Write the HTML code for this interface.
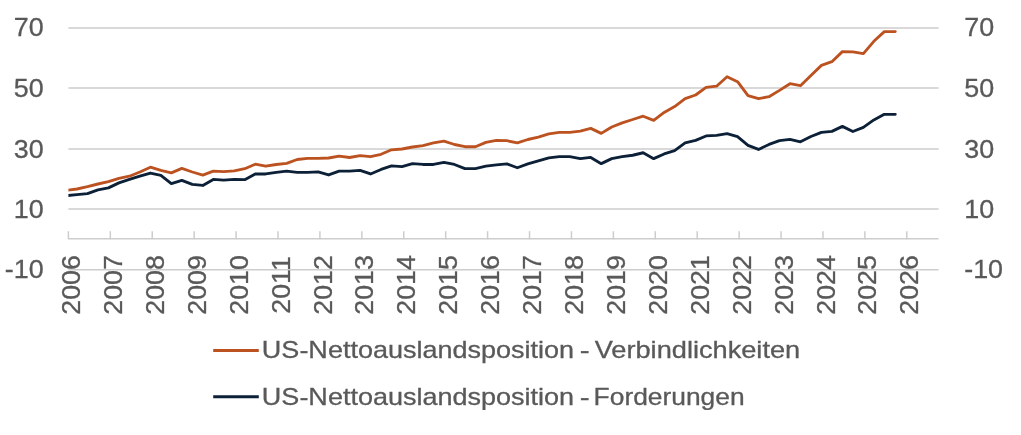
<!DOCTYPE html>
<html><head><meta charset="utf-8"><title>Chart</title>
<style>
html,body{margin:0;padding:0;background:#fff;}
body{width:1021px;height:435px;overflow:hidden;}
svg{display:block;}
text{font-family:"Liberation Sans",sans-serif;fill:#595959;stroke:#595959;stroke-width:0.3px;}
.t{will-change:transform;}
</style></head><body>
<svg width="1021" height="435" viewBox="0 0 1021 435">
<rect width="1021" height="435" fill="#ffffff"/>
<line x1="68.4" y1="27.9" x2="938.6" y2="27.9" stroke="#cdcdcd" stroke-width="1.5"/>
<line x1="68.4" y1="88.0" x2="938.6" y2="88.0" stroke="#cdcdcd" stroke-width="1.5"/>
<line x1="68.4" y1="149.1" x2="938.6" y2="149.1" stroke="#cdcdcd" stroke-width="1.5"/>
<line x1="68.4" y1="209.0" x2="938.6" y2="209.0" stroke="#cdcdcd" stroke-width="1.5"/>
<line x1="68.4" y1="269.7" x2="938.6" y2="269.7" stroke="#cdcdcd" stroke-width="1.5"/>
<line x1="68.4" y1="238.7" x2="938.6" y2="238.7" stroke="#cdcdcd" stroke-width="1.5"/>
<line x1="68.40" y1="231.2" x2="68.40" y2="239.29999999999998" stroke="#cdcdcd" stroke-width="1.5"/>
<line x1="110.32" y1="231.2" x2="110.32" y2="239.29999999999998" stroke="#cdcdcd" stroke-width="1.5"/>
<line x1="152.24" y1="231.2" x2="152.24" y2="239.29999999999998" stroke="#cdcdcd" stroke-width="1.5"/>
<line x1="194.16" y1="231.2" x2="194.16" y2="239.29999999999998" stroke="#cdcdcd" stroke-width="1.5"/>
<line x1="236.08" y1="231.2" x2="236.08" y2="239.29999999999998" stroke="#cdcdcd" stroke-width="1.5"/>
<line x1="278.00" y1="231.2" x2="278.00" y2="239.29999999999998" stroke="#cdcdcd" stroke-width="1.5"/>
<line x1="319.92" y1="231.2" x2="319.92" y2="239.29999999999998" stroke="#cdcdcd" stroke-width="1.5"/>
<line x1="361.84" y1="231.2" x2="361.84" y2="239.29999999999998" stroke="#cdcdcd" stroke-width="1.5"/>
<line x1="403.76" y1="231.2" x2="403.76" y2="239.29999999999998" stroke="#cdcdcd" stroke-width="1.5"/>
<line x1="445.68" y1="231.2" x2="445.68" y2="239.29999999999998" stroke="#cdcdcd" stroke-width="1.5"/>
<line x1="487.60" y1="231.2" x2="487.60" y2="239.29999999999998" stroke="#cdcdcd" stroke-width="1.5"/>
<line x1="529.52" y1="231.2" x2="529.52" y2="239.29999999999998" stroke="#cdcdcd" stroke-width="1.5"/>
<line x1="571.44" y1="231.2" x2="571.44" y2="239.29999999999998" stroke="#cdcdcd" stroke-width="1.5"/>
<line x1="613.36" y1="231.2" x2="613.36" y2="239.29999999999998" stroke="#cdcdcd" stroke-width="1.5"/>
<line x1="655.28" y1="231.2" x2="655.28" y2="239.29999999999998" stroke="#cdcdcd" stroke-width="1.5"/>
<line x1="697.20" y1="231.2" x2="697.20" y2="239.29999999999998" stroke="#cdcdcd" stroke-width="1.5"/>
<line x1="739.12" y1="231.2" x2="739.12" y2="239.29999999999998" stroke="#cdcdcd" stroke-width="1.5"/>
<line x1="781.04" y1="231.2" x2="781.04" y2="239.29999999999998" stroke="#cdcdcd" stroke-width="1.5"/>
<line x1="822.96" y1="231.2" x2="822.96" y2="239.29999999999998" stroke="#cdcdcd" stroke-width="1.5"/>
<line x1="864.88" y1="231.2" x2="864.88" y2="239.29999999999998" stroke="#cdcdcd" stroke-width="1.5"/>
<line x1="906.80" y1="231.2" x2="906.80" y2="239.29999999999998" stroke="#cdcdcd" stroke-width="1.5"/>
<clipPath id="c"><rect x="68.4" y="0" width="880" height="240"/></clipPath>
<g clip-path="url(#c)">
<polyline points="66.50,195.65 76.98,194.65 87.47,193.65 97.95,189.95 108.44,187.85 118.92,182.85 129.41,179.45 139.89,176.15 150.38,173.05 160.87,175.35 171.35,183.65 181.83,180.35 192.32,184.45 202.81,185.45 213.29,179.45 223.77,180.15 234.26,179.45 244.75,179.65 255.23,173.95 265.71,173.95 276.20,172.35 286.69,171.15 297.17,172.35 307.65,172.35 318.14,171.95 328.62,174.95 339.11,171.15 349.59,171.15 360.08,170.35 370.56,173.95 381.05,169.45 391.53,165.85 402.02,166.65 412.50,163.65 422.99,164.45 433.47,164.45 443.96,162.45 454.44,164.45 464.93,168.65 475.41,168.65 485.90,166.15 496.38,164.95 506.87,163.95 517.36,167.75 527.84,163.95 538.33,160.85 548.81,157.85 559.29,156.65 569.78,156.65 580.26,158.65 590.75,157.45 601.24,163.65 611.72,158.65 622.20,156.65 632.69,155.25 643.17,152.75 653.66,158.65 664.14,153.95 674.63,150.55 685.12,142.85 695.60,140.35 706.08,135.95 716.57,135.35 727.05,133.65 737.54,136.65 748.02,145.35 758.51,149.45 769.00,144.45 779.48,140.65 789.96,139.45 800.45,141.85 810.93,136.55 821.42,132.35 831.90,131.35 842.39,126.35 852.88,131.55 863.36,127.35 873.84,119.95 884.33,114.35 895.30,114.35" fill="none" stroke="#0c2037" stroke-width="2.85" stroke-linejoin="round" stroke-linecap="round"/>
<polyline points="66.50,190.35 76.98,189.00 87.47,186.70 97.95,184.00 108.44,181.70 118.92,178.40 129.41,176.20 139.89,172.00 150.38,167.20 160.87,170.40 171.35,172.90 181.83,168.40 192.32,172.00 202.81,175.10 213.29,171.20 223.77,171.70 234.26,170.90 244.75,168.70 255.23,164.20 265.71,166.20 276.20,164.50 286.69,163.40 297.17,159.50 307.65,158.40 318.14,158.40 328.62,158.00 339.11,156.20 349.59,157.50 360.08,155.70 370.56,156.70 381.05,154.30 391.53,149.80 402.02,149.00 412.50,147.00 422.99,145.70 433.47,142.90 443.96,141.20 454.44,144.50 464.93,146.70 475.41,146.70 485.90,142.40 496.38,140.40 506.87,140.70 517.36,142.90 527.84,139.50 538.33,137.20 548.81,133.90 559.29,132.40 569.78,132.40 580.26,131.20 590.75,128.40 601.24,133.40 611.72,127.00 622.20,122.90 632.69,119.50 643.17,116.20 653.66,120.40 664.14,112.40 674.63,106.60 685.12,98.70 695.60,95.00 706.08,87.40 716.57,86.20 727.05,76.70 737.54,81.70 748.02,95.70 758.51,98.70 769.00,96.70 779.48,90.40 789.96,83.70 800.45,85.70 810.93,75.40 821.42,65.40 831.90,61.70 842.39,51.60 852.88,51.90 863.36,53.60 873.84,41.30 884.33,31.60 895.30,31.60" fill="none" stroke="#bc5220" stroke-width="2.85" stroke-linejoin="round" stroke-linecap="round"/>
</g>
<line x1="213.2" y1="350.5" x2="258.8" y2="350.5" stroke="#bc5220" stroke-width="2.9"/>
<line x1="213.2" y1="396.7" x2="258.8" y2="396.7" stroke="#0c2037" stroke-width="2.9"/>
<g class="t">
<text transform="translate(43.6,36.4) scale(1.075,1)" font-size="25" text-anchor="end">70</text>
<text transform="translate(964.2,36.4) scale(1.075,1)" font-size="25" text-anchor="start">70</text>
<text transform="translate(43.6,96.5) scale(1.075,1)" font-size="25" text-anchor="end">50</text>
<text transform="translate(964.2,96.5) scale(1.075,1)" font-size="25" text-anchor="start">50</text>
<text transform="translate(43.6,157.6) scale(1.075,1)" font-size="25" text-anchor="end">30</text>
<text transform="translate(964.2,157.6) scale(1.075,1)" font-size="25" text-anchor="start">30</text>
<text transform="translate(43.6,217.5) scale(1.075,1)" font-size="25" text-anchor="end">10</text>
<text transform="translate(964.2,217.5) scale(1.075,1)" font-size="25" text-anchor="start">10</text>
<text transform="translate(43.6,278.2) scale(1.075,1)" font-size="25" text-anchor="end">-10</text>
<text transform="translate(964.2,278.2) scale(1.075,1)" font-size="25" text-anchor="start">-10</text>
<text transform="translate(80.00,284.9) rotate(-90) scale(1.075,1)" font-size="25" text-anchor="middle">2006</text>
<text transform="translate(121.92,284.9) rotate(-90) scale(1.075,1)" font-size="25" text-anchor="middle">2007</text>
<text transform="translate(163.84,284.9) rotate(-90) scale(1.075,1)" font-size="25" text-anchor="middle">2008</text>
<text transform="translate(205.76,284.9) rotate(-90) scale(1.075,1)" font-size="25" text-anchor="middle">2009</text>
<text transform="translate(247.68,284.9) rotate(-90) scale(1.075,1)" font-size="25" text-anchor="middle">2010</text>
<text transform="translate(289.60,284.9) rotate(-90) scale(1.075,1)" font-size="25" text-anchor="middle">2011</text>
<text transform="translate(331.52,284.9) rotate(-90) scale(1.075,1)" font-size="25" text-anchor="middle">2012</text>
<text transform="translate(373.44,284.9) rotate(-90) scale(1.075,1)" font-size="25" text-anchor="middle">2013</text>
<text transform="translate(415.36,284.9) rotate(-90) scale(1.075,1)" font-size="25" text-anchor="middle">2014</text>
<text transform="translate(457.28,284.9) rotate(-90) scale(1.075,1)" font-size="25" text-anchor="middle">2015</text>
<text transform="translate(499.20,284.9) rotate(-90) scale(1.075,1)" font-size="25" text-anchor="middle">2016</text>
<text transform="translate(541.12,284.9) rotate(-90) scale(1.075,1)" font-size="25" text-anchor="middle">2017</text>
<text transform="translate(583.04,284.9) rotate(-90) scale(1.075,1)" font-size="25" text-anchor="middle">2018</text>
<text transform="translate(624.96,284.9) rotate(-90) scale(1.075,1)" font-size="25" text-anchor="middle">2019</text>
<text transform="translate(666.88,284.9) rotate(-90) scale(1.075,1)" font-size="25" text-anchor="middle">2020</text>
<text transform="translate(708.80,284.9) rotate(-90) scale(1.075,1)" font-size="25" text-anchor="middle">2021</text>
<text transform="translate(750.72,284.9) rotate(-90) scale(1.075,1)" font-size="25" text-anchor="middle">2022</text>
<text transform="translate(792.64,284.9) rotate(-90) scale(1.075,1)" font-size="25" text-anchor="middle">2023</text>
<text transform="translate(834.56,284.9) rotate(-90) scale(1.075,1)" font-size="25" text-anchor="middle">2024</text>
<text transform="translate(876.48,284.9) rotate(-90) scale(1.075,1)" font-size="25" text-anchor="middle">2025</text>
<text transform="translate(918.40,284.9) rotate(-90) scale(1.075,1)" font-size="25" text-anchor="middle">2026</text>
<text x="261.86" y="357.6" font-size="24" textLength="312.29" lengthAdjust="spacingAndGlyphs">US-Nettoauslandsposition</text>
<text x="579.88" y="357.6" font-size="24" textLength="9.90" lengthAdjust="spacingAndGlyphs">-</text>
<text x="594.71" y="357.6" font-size="24" textLength="205.49" lengthAdjust="spacingAndGlyphs">Verbindlichkeiten</text>
<text x="261.86" y="404.5" font-size="24" textLength="312.29" lengthAdjust="spacingAndGlyphs">US-Nettoauslandsposition</text>
<text x="579.88" y="404.5" font-size="24" textLength="9.90" lengthAdjust="spacingAndGlyphs">-</text>
<text x="593.62" y="404.5" font-size="24" textLength="151.00" lengthAdjust="spacingAndGlyphs">Forderungen</text>
</g>
</svg>
</body></html>
